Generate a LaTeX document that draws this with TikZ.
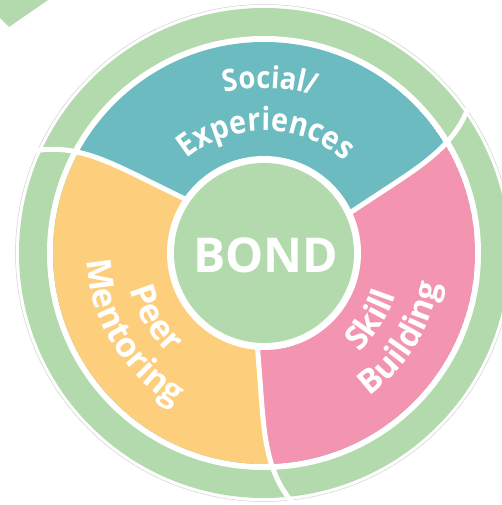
\documentclass[tikz,border=0pt]{standalone}
\usepackage{fontspec}
\setmainfont{Open Sans}
\newfontfamily\narrowfont[FakeStretch=0.9]{Open Sans}
\usetikzlibrary{decorations.text}
\definecolor{ringgreen}{HTML}{B3DAAC}
\definecolor{tealseg}{HTML}{6BBBC1}
\definecolor{pinkseg}{HTML}{F395B0}
\definecolor{goldseg}{HTML}{FDCF7C}
\newcommand\segfont[1]{\color{white}\bfseries\fontsize{#1}{#1}\selectfont}
\newcommand\topsegfont[1]{\color{white}\narrowfont\bfseries\fontsize{#1}{#1}\selectfont}
\tikzset{
  declare function={twist(\q)=(8.0244 - 7.856*(\q-100)/100 + 4.586*((\q-100)/100)*((\q-100)/100))*(\q-100)/100;},
  divline/.style={white, line width=5pt},
  arctext/.style 2 args={decorate, decoration={text along path, text align=center, text={|\segfont{#1}|#2}}},
  toparctext/.style 2 args={decorate, decoration={text along path, text align=center, text={|\topsegfont{#1}|#2}}}
}
\begin{document}
\begin{tikzpicture}
\clip (-264pt,-252pt) rectangle (238pt,253pt);
% top-left arrow piece
\fill[ringgreen] (-264pt,253pt) -- (-216pt,253pt) -- (-255pt,226pt) -- (-264pt,235pt) -- cycle;
% outer faint outline and ring
\draw[black!18, line width=0.5pt] (0,0) circle (248.5pt);
\fill[ringgreen] (0,0) circle (245pt);
\fill[white] (0,0) circle (217pt);
% coloured segments
\begin{scope}
\clip (0,0) circle (211pt);
\fill[tealseg] (0,0) circle (211pt);
\fill[pinkseg] (0,0) -- plot[smooth, variable=\q, domain=88:252, samples=25] ({25.5+twist(\q)}:\q pt)
  -- (35.65:400pt) arc[start angle=35.65, end angle=-83.35, radius=400pt]
  -- (-83.35:252pt) -- plot[smooth, variable=\q, domain=252:88, samples=25] ({266.5+twist(\q)}:\q pt) -- cycle;
\fill[goldseg] (0,0) -- plot[smooth, variable=\q, domain=88:252, samples=25] ({266.5+twist(\q)}:\q pt)
  -- (276.65:400pt) arc[start angle=276.65, end angle=156.15, radius=400pt]
  -- (156.15:252pt) -- plot[smooth, variable=\q, domain=252:88, samples=25] ({146+twist(\q)}:\q pt) -- cycle;
\end{scope}
% dividers
\foreach \a in {25.5,146,266.5}
  \draw[divline] plot[smooth, variable=\q, domain=92:253, samples=25] ({\a+twist(\q)}:\q pt);
% centre
\fill[white] (0,0) circle (97pt);
\fill[ringgreen] (0,0) circle (90pt);
\node[font=\bfseries\fontsize{48}{48}\selectfont, text=white] (bond) at (2pt,-2pt) {BOND};
% texts
\path[toparctext={30.5}{Social/}] (178:165pt) arc[start angle=178, end angle=-2, radius=165pt];
\path[toparctext={32}{Experiences}] (179:122pt) arc[start angle=179, end angle=-1, radius=122pt];
\path[arctext={34}{Peer}] (121:139pt) arc[start angle=121, end angle=301, radius=139pt];
\path[arctext={34}{Mentoring}] (121:177pt) arc[start angle=121, end angle=301, radius=177pt];
\path[arctext={33}{Skill}] (238:138pt) arc[start angle=238, end angle=418, radius=138pt];
\path[arctext={33}{Building}] (238:178pt) arc[start angle=238, end angle=418, radius=178pt];
\end{tikzpicture}
\end{document}
